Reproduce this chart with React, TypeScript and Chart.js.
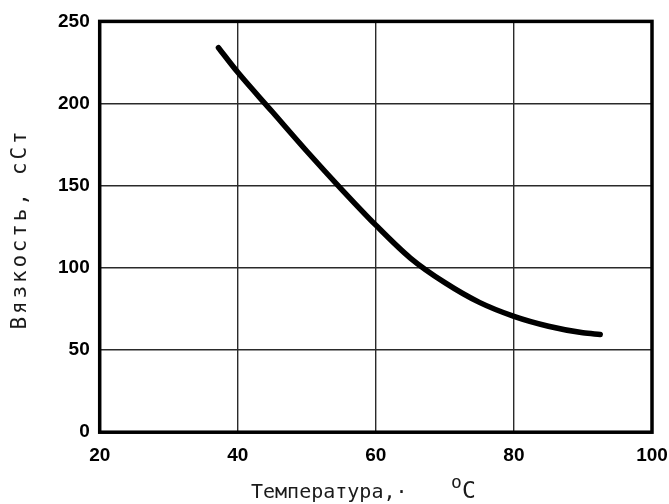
import React, { useEffect, useRef } from "react";
import { Chart, registerables } from "chart.js";

Chart.register(...registerables);

const temperatures = [37.2, 40, 45, 50, 55, 60, 65, 70, 75, 80, 85, 90, 92.5];
const viscosity = [234, 219, 195, 171, 148, 126, 106, 91, 79, 70.5, 64.5, 60.5, 59.5];
const xTicks = [20, 40, 60, 80, 100];
const yTicks = [0, 50, 100, 150, 200, 250];
const xTitle = "Температура,·";
const xUnitSup = "o";
const xUnit = "C";
const yTitle = "Вязкость, сСт";

const framePlugin = {
  id: "frameAndTitles",
  afterDraw(chart: any) {
    const { ctx, chartArea } = chart;
    ctx.save();
    ctx.strokeStyle = "#000";
    ctx.lineWidth = 3.5;
    ctx.strokeRect(chartArea.left, chartArea.top, chartArea.right - chartArea.left, chartArea.bottom - chartArea.top);

    ctx.fillStyle = "#1a1a1a";
    ctx.textBaseline = "alphabetic";
    ctx.textAlign = "left";
    (ctx as any).letterSpacing = "0px";
    ctx.font = "20px 'DejaVu Sans Mono'";
    ctx.fillText(xTitle, 251, 498);
    ctx.font = "18px 'DejaVu Sans Mono'";
    ctx.fillText(xUnitSup, 451, 488);
    ctx.font = "23px 'DejaVu Sans Mono'";
    ctx.fillText(xUnit, 462, 498);

    ctx.translate(21, 229);
    ctx.rotate(-Math.PI / 2);
    ctx.font = "21px 'DejaVu Sans Mono'";
    (ctx as any).letterSpacing = "2.8px";
    ctx.textAlign = "center";
    ctx.textBaseline = "middle";
    ctx.fillText(yTitle, 0, 0);
    ctx.restore();
  },
};

export default function App() {
  const ref = useRef<HTMLCanvasElement | null>(null);
  useEffect(() => {
    document.body.style.margin = "0";
    const tickFont = { family: "'Liberation Sans', Arial, sans-serif", size: 19, weight: "bold" };
    const chart = new Chart(ref.current!, {
      type: "scatter",
      data: {
        datasets: [
          {
            data: temperatures.map((t, i) => ({ x: t, y: viscosity[i] })),
            showLine: true,
            borderColor: "#000",
            borderWidth: 5.5,
            borderCapStyle: "round",
            pointRadius: 0,
            cubicInterpolationMode: "monotone",
            fill: false,
          },
        ],
      },
      options: {
        animation: false,
        responsive: false,
        layout: { padding: { left: 48, right: 0, top: 12, bottom: 25 } },
        plugins: { legend: { display: false }, tooltip: { enabled: false } },
        scales: {
          x: {
            type: "linear",
            min: xTicks[0],
            max: xTicks[xTicks.length - 1],
            afterBuildTicks: (s: any) => { s.ticks = xTicks.map((v) => ({ value: v })); },
            afterFit: (s: any) => { s.paddingRight = 17; s.paddingLeft = 0; },
            grid: { color: "#2a2a2a", lineWidth: 1.4, drawTicks: false },
            border: { display: false },
            ticks: { color: "#000", padding: 12, maxRotation: 0, font: tickFont },
          },
          y: {
            type: "linear",
            min: yTicks[0],
            max: yTicks[yTicks.length - 1],
            afterBuildTicks: (s: any) => { s.ticks = yTicks.map((v) => ({ value: v })); },
            grid: { color: "#2a2a2a", lineWidth: 1.4, drawTicks: false },
            border: { display: false },
            ticks: { color: "#000", padding: 10, font: tickFont },
          },
        },
      },
      plugins: [framePlugin],
    } as any);
    return () => chart.destroy();
  }, []);
  return (
    <div style={{ position: "absolute", left: 0, top: 0, width: 669, height: 504, background: "#fff" }}>
      <canvas ref={ref} width={669} height={504} style={{ display: "block" }} />
    </div>
  );
}
